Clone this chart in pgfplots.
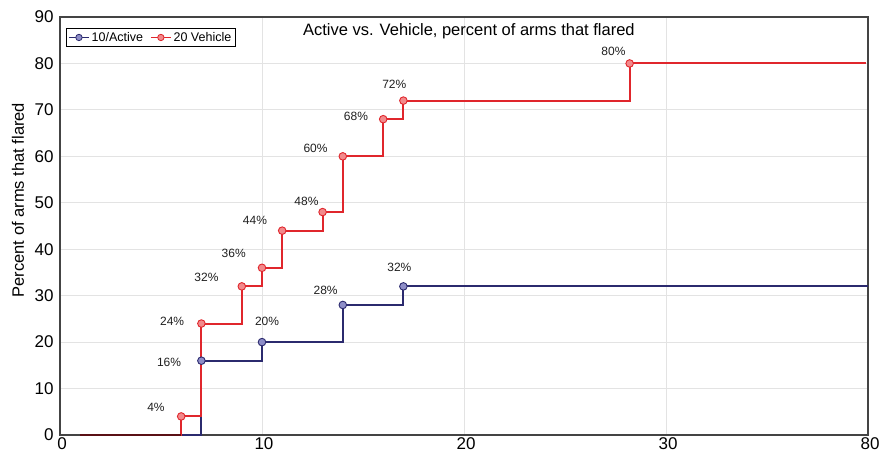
\documentclass[border=0pt]{standalone}
\usepackage{pgfplots}
\pgfplotsset{compat=1.18}
\usepackage{fontspec}
\setmainfont{Liberation Sans}
\definecolor{redline}{HTML}{E0262C}
\definecolor{redfill}{HTML}{F28A8C}
\definecolor{blueline}{HTML}{2B2A6E}
\definecolor{bluefill}{HTML}{8E8EC8}
\definecolor{overlap}{HTML}{5A1015}
\definecolor{frame}{HTML}{444444}
\begin{document}
\begin{tikzpicture}[x=1pt,y=1pt]
\begin{axis}[
  scale only axis,
  width=808pt, height=418pt,
  xmin=0, xmax=40, ymin=0, ymax=90,
  xtick={0,10,20,30,40}, xticklabels={0,10,20,30,80},
  ytick={0,10,...,90},
  grid=major,
  grid style={draw=gray!22, line width=0.8pt},
  major tick length=0pt,
  axis line style={draw=frame, line width=1.6pt},
  tick label style={font=\fontsize{17}{19}\selectfont},
  /pgf/number format/assume math mode=true,
  xticklabel style={yshift=0.5pt, xshift=2pt},
  yticklabel style={xshift=-3pt},
  legend columns=2,
  legend style={at={(rel axis cs:0,1)}, xshift=6pt, yshift=-11pt, anchor=north west,
    font=\fontsize{12.5}{14}\selectfont, draw=black, line width=0.8pt,
    inner sep=1.8pt, row sep=0pt, /tikz/every even column/.append style={column sep=5pt}},
  legend image code/.code={\draw[mark repeat=2,mark phase=2,#1] plot coordinates {(0pt,0pt) (10pt,0pt) (20pt,0pt)};},
  legend cell align=left,
  clip=false,
]
\addlegendimage{blueline, line width=1.5pt, mark=*, mark size=3.2pt, mark options={fill=bluefill, draw=blueline, line width=0.8pt}}
\addlegendentry{10/Active}
\addlegendimage{redline, line width=1.5pt, mark=*, mark size=3.2pt, mark options={fill=redfill, draw=redline, line width=0.8pt}}
\addlegendentry{20 Vehicle}

% Active (blue)
\addplot[const plot, blueline, line width=2pt, no marks, forget plot] coordinates {
(1,0) (7,16) (10,20) (14,28) (17,32) (40,32)};
% Vehicle (red)
\addplot[const plot, redline, line width=2pt, no marks, forget plot] coordinates {
(1,0) (6,4) (7,24) (9,32) (10,36) (11,44) (13,48) (14,60) (16,68) (17,72) (28.2,80) (39.9,80)};
% overlapping zero segment
\addplot[overlap, line width=2pt, no marks, forget plot] coordinates {(1,0) (6,0)};
% marks
\addplot[only marks, mark=*, mark size=3.8pt, mark options={fill=bluefill, draw=blueline, line width=0.9pt}, forget plot] coordinates {
(7,16) (10,20) (14,28) (17,32)};
\addplot[only marks, mark=*, mark size=3.8pt, mark options={fill=redfill, draw=redline, line width=0.9pt}, forget plot] coordinates {
(6,4) (7,24) (9,32) (10,36) (11,44) (13,48) (14,60) (16,68) (17,72) (28.2,80)};

\begin{scope}[every node/.style={font=\fontsize{12}{14}\selectfont, text=black!88}]
\node at (axis cs:4.75,6.0) {4\%};
\node at (axis cs:5.4,15.7) {16\%};
\node at (axis cs:5.55,24.5) {24\%};
\node at (axis cs:7.25,34.0) {32\%};
\node at (axis cs:8.6,39.2) {36\%};
\node at (axis cs:9.65,46.3) {44\%};
\node at (axis cs:12.2,50.4) {48\%};
\node at (axis cs:12.65,61.8) {60\%};
\node at (axis cs:14.65,68.5) {68\%};
\node at (axis cs:16.55,75.4) {72\%};
\node at (axis cs:27.4,82.7) {80\%};
\node at (axis cs:10.25,24.5) {20\%};
\node at (axis cs:13.15,31.2) {28\%};
\node at (axis cs:16.8,36.0) {32\%};
\end{scope}
\node[font=\fontsize{16.5}{18}\selectfont, text=black] at (rel axis cs:0.506,0.966) {Active vs. Vehicle, percent of arms that flared};
\node[rotate=90, font=\fontsize{16.5}{18}\selectfont, text=black] at ([xshift=-42pt]rel axis cs:0,0.562) {Percent of arms that flared};
\end{axis}
\pgfresetboundingbox
\path (-60,-18) rectangle (820,435);
\end{tikzpicture}
\end{document}
